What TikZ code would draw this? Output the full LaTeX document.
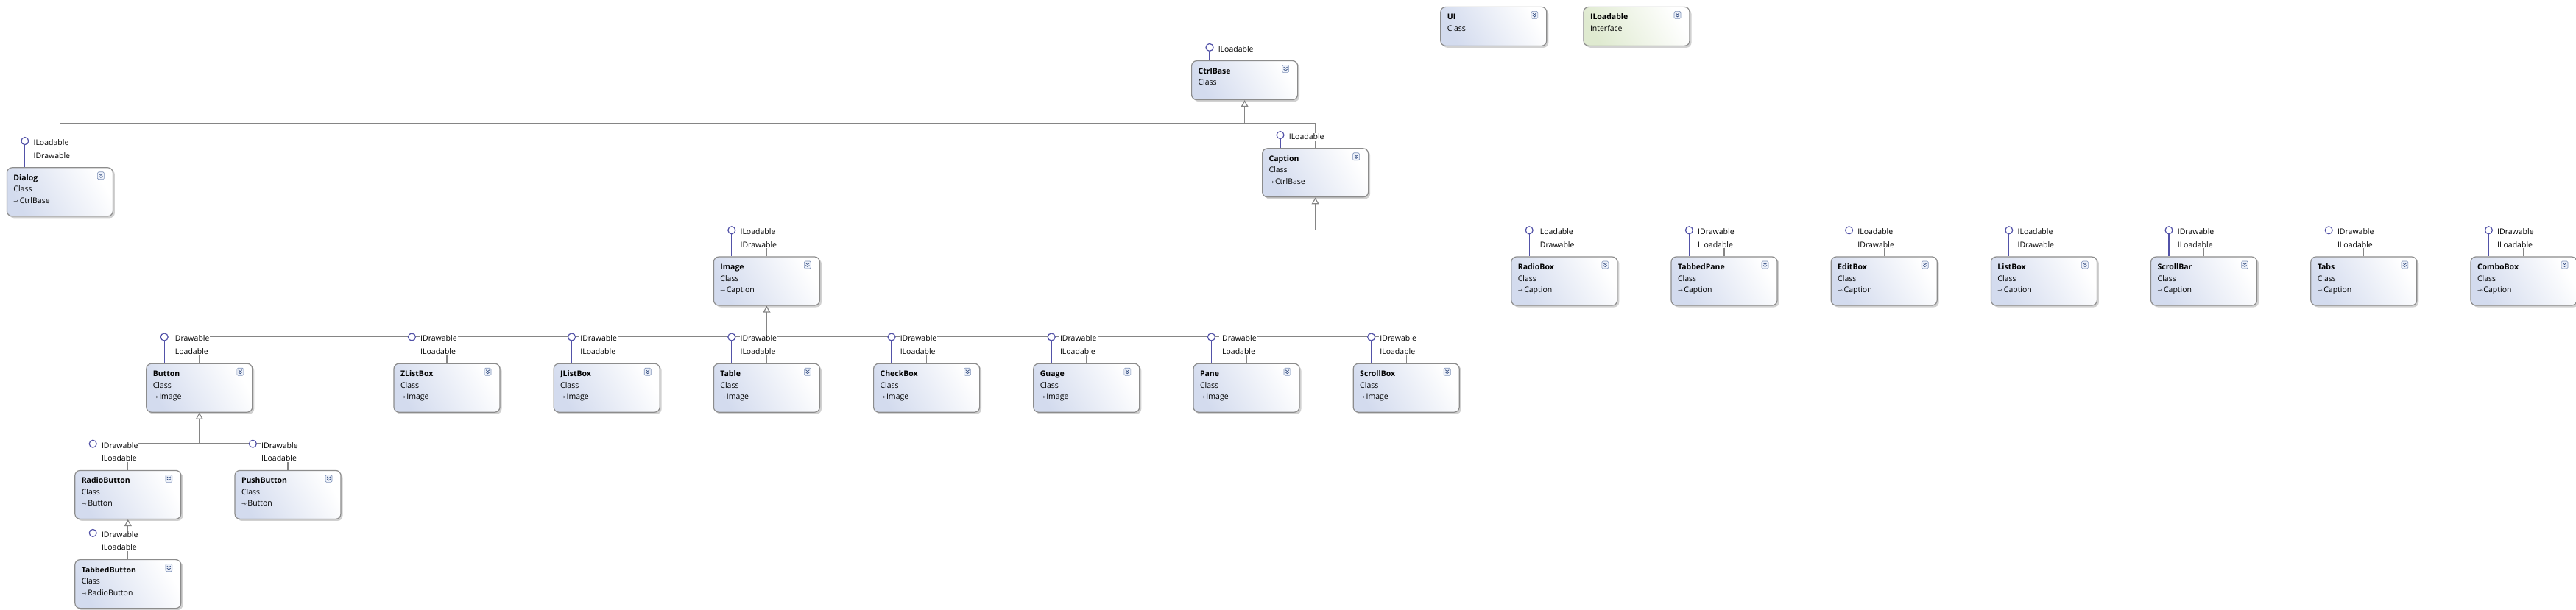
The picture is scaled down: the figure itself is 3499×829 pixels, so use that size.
\documentclass[tikz,border=0pt]{standalone}
\usepackage{fontspec}
\setmainfont{Open Sans}
\newfontfamily\symfont{DejaVu Sans}
\usetikzlibrary{arrows.meta, positioning, shadows, backgrounds}

\definecolor{classfill}{HTML}{D3DBEE}
\definecolor{ifacefill}{HTML}{DFEAD0}
\definecolor{boxline}{HTML}{8C8C8C}
\definecolor{linkline}{HTML}{858585}
\definecolor{lollyline}{HTML}{5252A8}
\definecolor{togglefill}{HTML}{EEF2FA}
\definecolor{toggleline}{HTML}{7F92B8}
\definecolor{togglemark}{HTML}{3C5486}

% box texts: name, kind, base class
\newcommand{\classtext}[3]{\parbox[c][66pt][t]{126pt}{\rule{0pt}{17.5pt}\textbf{#1}\\#2\\{\symfont\fontsize{8}{10}\selectfont ⇾}\,#3}}
\newcommand{\typetext}[2]{\parbox[c][53pt][t]{126pt}{\rule{0pt}{17.5pt}\textbf{#1}\\#2}}

\begin{document}
\begin{tikzpicture}[
    x=1pt, y=1pt,
    node distance=72pt,
    font=\fontsize{10.5}{15.5}\selectfont,
    toggle/.style={path picture={
        \draw[toggleline, fill=togglefill, line width=0.6pt, rounded corners=1.5pt]
            ([xshift=-21pt, yshift=-6pt]path picture bounding box.north east)
            rectangle ([xshift=-12pt, yshift=-16pt]path picture bounding box.north east);
        \draw[togglemark, line width=0.8pt, sharp corners]
            ([xshift=-19pt, yshift=-8.5pt]path picture bounding box.north east)
            -- ++(2.5pt,-2pt) -- ++(2.5pt,2pt)
            ([xshift=-19pt, yshift=-11.5pt]path picture bounding box.north east)
            -- ++(2.5pt,-2pt) -- ++(2.5pt,2pt);
    }},
    classbox/.style={draw=boxline, line width=1.2pt, rounded corners=7pt,
        inner xsep=9pt, inner ysep=0pt, left color=classfill, right color=white,
        shading angle=120, toggle,
        drop shadow={shadow xshift=2.5pt, shadow yshift=-2.5pt, opacity=0.3, fill=black!60}},
    ifacebox/.style={classbox, left color=ifacefill, right color=white, shading angle=120},
    lolly/.style={circle, draw=lollyline, fill=white, line width=1.2pt, minimum size=10pt, inner sep=0pt},
    lollytext/.style={fill=white, inner sep=1pt, align=left, anchor=north west,
        font=\fontsize{10.5}{17.5}\selectfont},
    stem/.style={draw=lollyline, line width=1.2pt},
    link/.style={draw=linkline, line width=1.2pt},
    base/.style={link, -{Triangle[open, length=9pt, width=10pt]}},
]
    \useasboundingbox (0,0) rectangle (3499,-829);

    % Nodes
    \node (CtrlBase) [classbox, anchor=north west] at (1618,-82) {\typetext{CtrlBase}{Class}};
    \node (UI) [classbox, above right=19pt and 193pt of CtrlBase] {\typetext{UI}{Class}};
    \node (ILoadable) [ifacebox, right=49pt of UI] {\typetext{ILoadable}{Interface}};

    \node (Dialog) [classbox, below left=91pt and 1464pt of CtrlBase] {\classtext{Dialog}{Class}{CtrlBase}};
    \node (Caption) [classbox, below=65pt of CtrlBase, xshift=96pt] {\classtext{Caption}{Class}{CtrlBase}};

    \node (Image) [classbox, below left=80pt and 600pt of Caption] {\classtext{Image}{Class}{Caption}};
    \node (RadioBox) [classbox, below right=80pt and 193pt of Caption] {\classtext{RadioBox}{Class}{Caption}};
    \node (TabbedPane) [classbox, right=of RadioBox] {\classtext{TabbedPane}{Class}{Caption}};
    \node (EditBox) [classbox, right=of TabbedPane] {\classtext{EditBox}{Class}{Caption}};
    \node (ListBox) [classbox, right=of EditBox] {\classtext{ListBox}{Class}{Caption}};
    \node (ScrollBar) [classbox, right=of ListBox] {\classtext{ScrollBar}{Class}{Caption}};
    \node (Tabs) [classbox, right=of ScrollBar] {\classtext{Tabs}{Class}{Caption}};
    \node (ComboBox) [classbox, right=of Tabs] {\classtext{ComboBox}{Class}{Caption}};

    \node (Table) [classbox, below=78pt of Image] {\classtext{Table}{Class}{Image}};
    \node (JListBox) [classbox, left=of Table] {\classtext{JListBox}{Class}{Image}};
    \node (ZListBox) [classbox, left=of JListBox] {\classtext{ZListBox}{Class}{Image}};
    \node (Button) [classbox, left=191pt of ZListBox] {\classtext{Button}{Class}{Image}};
    \node (CheckBox) [classbox, right=of Table] {\classtext{CheckBox}{Class}{Image}};
    \node (Guage) [classbox, right=of CheckBox] {\classtext{Guage}{Class}{Image}};
    \node (Pane) [classbox, right=of Guage] {\classtext{Pane}{Class}{Image}};
    \node (ScrollBox) [classbox, right=of Pane] {\classtext{ScrollBox}{Class}{Image}};

    \node (RadioButton) [classbox, below=78pt of Button, xshift=-97pt] {\classtext{RadioButton}{Class}{Button}};
    \node (PushButton) [classbox, right=of RadioButton] {\classtext{PushButton}{Class}{Button}};
    \node (TabbedButton) [classbox, below=54pt of RadioButton] {\classtext{TabbedButton}{Class}{RadioButton}};

    % Interfaces
    \node (CtrlBase-o) [lolly, above=12pt of CtrlBase.north west, xshift=25pt] {};
    \node (CtrlBase-t) [lollytext] at ([xshift=5pt, yshift=3.2pt]CtrlBase-o.east) {ILoadable};
    \draw[stem] (CtrlBase-o) -- (CtrlBase-o |- CtrlBase.north);

    \node (Dialog-o) [lolly, above=30pt of Dialog.north west, xshift=25pt] {};
    \node (Dialog-t) [lollytext] at ([xshift=5pt, yshift=3.2pt]Dialog-o.east) {ILoadable\\IDrawable};
    \draw[stem] (Dialog-o) -- (Dialog-o |- Dialog.north);

    \node (Caption-o) [lolly, above=12pt of Caption.north west, xshift=25pt] {};
    \node (Caption-t) [lollytext] at ([xshift=5pt, yshift=3.2pt]Caption-o.east) {ILoadable};
    \draw[stem] (Caption-o) -- (Caption-o |- Caption.north);

    \node (Image-o) [lolly, above=30pt of Image.north west, xshift=25pt] {};
    \node (Image-t) [lollytext] at ([xshift=5pt, yshift=3.2pt]Image-o.east) {ILoadable\\IDrawable};
    \draw[stem] (Image-o) -- (Image-o |- Image.north);

    \node (RadioBox-o) [lolly, above=30pt of RadioBox.north west, xshift=25pt] {};
    \node (RadioBox-t) [lollytext] at ([xshift=5pt, yshift=3.2pt]RadioBox-o.east) {ILoadable\\IDrawable};
    \draw[stem] (RadioBox-o) -- (RadioBox-o |- RadioBox.north);

    \node (TabbedPane-o) [lolly, above=30pt of TabbedPane.north west, xshift=25pt] {};
    \node (TabbedPane-t) [lollytext] at ([xshift=5pt, yshift=3.2pt]TabbedPane-o.east) {IDrawable\\ILoadable};
    \draw[stem] (TabbedPane-o) -- (TabbedPane-o |- TabbedPane.north);

    \node (EditBox-o) [lolly, above=30pt of EditBox.north west, xshift=25pt] {};
    \node (EditBox-t) [lollytext] at ([xshift=5pt, yshift=3.2pt]EditBox-o.east) {ILoadable\\IDrawable};
    \draw[stem] (EditBox-o) -- (EditBox-o |- EditBox.north);

    \node (ListBox-o) [lolly, above=30pt of ListBox.north west, xshift=25pt] {};
    \node (ListBox-t) [lollytext] at ([xshift=5pt, yshift=3.2pt]ListBox-o.east) {ILoadable\\IDrawable};
    \draw[stem] (ListBox-o) -- (ListBox-o |- ListBox.north);

    \node (ScrollBar-o) [lolly, above=30pt of ScrollBar.north west, xshift=25pt] {};
    \node (ScrollBar-t) [lollytext] at ([xshift=5pt, yshift=3.2pt]ScrollBar-o.east) {IDrawable\\ILoadable};
    \draw[stem] (ScrollBar-o) -- (ScrollBar-o |- ScrollBar.north);

    \node (Tabs-o) [lolly, above=30pt of Tabs.north west, xshift=25pt] {};
    \node (Tabs-t) [lollytext] at ([xshift=5pt, yshift=3.2pt]Tabs-o.east) {IDrawable\\ILoadable};
    \draw[stem] (Tabs-o) -- (Tabs-o |- Tabs.north);

    \node (ComboBox-o) [lolly, above=30pt of ComboBox.north west, xshift=25pt] {};
    \node (ComboBox-t) [lollytext] at ([xshift=5pt, yshift=3.2pt]ComboBox-o.east) {IDrawable\\ILoadable};
    \draw[stem] (ComboBox-o) -- (ComboBox-o |- ComboBox.north);

    \node (Button-o) [lolly, above=30pt of Button.north west, xshift=25pt] {};
    \node (Button-t) [lollytext] at ([xshift=5pt, yshift=3.2pt]Button-o.east) {IDrawable\\ILoadable};
    \draw[stem] (Button-o) -- (Button-o |- Button.north);

    \node (ZListBox-o) [lolly, above=30pt of ZListBox.north west, xshift=25pt] {};
    \node (ZListBox-t) [lollytext] at ([xshift=5pt, yshift=3.2pt]ZListBox-o.east) {IDrawable\\ILoadable};
    \draw[stem] (ZListBox-o) -- (ZListBox-o |- ZListBox.north);

    \node (JListBox-o) [lolly, above=30pt of JListBox.north west, xshift=25pt] {};
    \node (JListBox-t) [lollytext] at ([xshift=5pt, yshift=3.2pt]JListBox-o.east) {IDrawable\\ILoadable};
    \draw[stem] (JListBox-o) -- (JListBox-o |- JListBox.north);

    \node (Table-o) [lolly, above=30pt of Table.north west, xshift=25pt] {};
    \node (Table-t) [lollytext] at ([xshift=5pt, yshift=3.2pt]Table-o.east) {IDrawable\\ILoadable};
    \draw[stem] (Table-o) -- (Table-o |- Table.north);

    \node (CheckBox-o) [lolly, above=30pt of CheckBox.north west, xshift=25pt] {};
    \node (CheckBox-t) [lollytext] at ([xshift=5pt, yshift=3.2pt]CheckBox-o.east) {IDrawable\\ILoadable};
    \draw[stem] (CheckBox-o) -- (CheckBox-o |- CheckBox.north);

    \node (Guage-o) [lolly, above=30pt of Guage.north west, xshift=25pt] {};
    \node (Guage-t) [lollytext] at ([xshift=5pt, yshift=3.2pt]Guage-o.east) {IDrawable\\ILoadable};
    \draw[stem] (Guage-o) -- (Guage-o |- Guage.north);

    \node (Pane-o) [lolly, above=30pt of Pane.north west, xshift=25pt] {};
    \node (Pane-t) [lollytext] at ([xshift=5pt, yshift=3.2pt]Pane-o.east) {IDrawable\\ILoadable};
    \draw[stem] (Pane-o) -- (Pane-o |- Pane.north);

    \node (ScrollBox-o) [lolly, above=30pt of ScrollBox.north west, xshift=25pt] {};
    \node (ScrollBox-t) [lollytext] at ([xshift=5pt, yshift=3.2pt]ScrollBox-o.east) {IDrawable\\ILoadable};
    \draw[stem] (ScrollBox-o) -- (ScrollBox-o |- ScrollBox.north);

    \node (RadioButton-o) [lolly, above=30pt of RadioButton.north west, xshift=25pt] {};
    \node (RadioButton-t) [lollytext] at ([xshift=5pt, yshift=3.2pt]RadioButton-o.east) {IDrawable\\ILoadable};
    \draw[stem] (RadioButton-o) -- (RadioButton-o |- RadioButton.north);

    \node (PushButton-o) [lolly, above=30pt of PushButton.north west, xshift=25pt] {};
    \node (PushButton-t) [lollytext] at ([xshift=5pt, yshift=3.2pt]PushButton-o.east) {IDrawable\\ILoadable};
    \draw[stem] (PushButton-o) -- (PushButton-o |- PushButton.north);

    \node (TabbedButton-o) [lolly, above=30pt of TabbedButton.north west, xshift=25pt] {};
    \node (TabbedButton-t) [lollytext] at ([xshift=5pt, yshift=3.2pt]TabbedButton-o.east) {IDrawable\\ILoadable};
    \draw[stem] (TabbedButton-o) -- (TabbedButton-o |- TabbedButton.north);

    % Connections
    \coordinate [below=31pt of CtrlBase] (CtrlBase-bus);
    \coordinate [below=44pt of Caption] (Caption-bus);
    \coordinate [below=42pt of Image] (Image-bus);
    \coordinate [below=42pt of Button] (Button-bus);

    \begin{scope}[on background layer]
    \draw[link] (Dialog.north) |- (CtrlBase-bus);
    \draw[link] (Caption.north) |- (CtrlBase-bus);
    \draw[base] (CtrlBase-bus) -- (CtrlBase.south);

    \draw[link] (Image.north) |- (Caption-bus);
    \draw[link] (RadioBox.north) |- (Caption-bus);
    \draw[link] (TabbedPane.north) |- (Caption-bus);
    \draw[link] (EditBox.north) |- (Caption-bus);
    \draw[link] (ListBox.north) |- (Caption-bus);
    \draw[link] (ScrollBar.north) |- (Caption-bus);
    \draw[link] (Tabs.north) |- (Caption-bus);
    \draw[link] (ComboBox.north) |- (Caption-bus);
    \draw[base] (Caption-bus) -- (Caption.south);

    \draw[link] (Button.north) |- (Image-bus);
    \draw[link] (ZListBox.north) |- (Image-bus);
    \draw[link] (JListBox.north) |- (Image-bus);
    \draw[link] (Table.north) |- (Image-bus);
    \draw[link] (CheckBox.north) |- (Image-bus);
    \draw[link] (Guage.north) |- (Image-bus);
    \draw[link] (Pane.north) |- (Image-bus);
    \draw[link] (ScrollBox.north) |- (Image-bus);
    \draw[base] (Image-bus) -- (Image.south);

    \draw[link] (RadioButton.north) |- (Button-bus);
    \draw[link] (PushButton.north) |- (Button-bus);
    \draw[base] (Button-bus) -- (Button.south);

    \draw[base] (TabbedButton.north) -- (RadioButton.south);
    \end{scope}

\end{tikzpicture}
\end{document}
